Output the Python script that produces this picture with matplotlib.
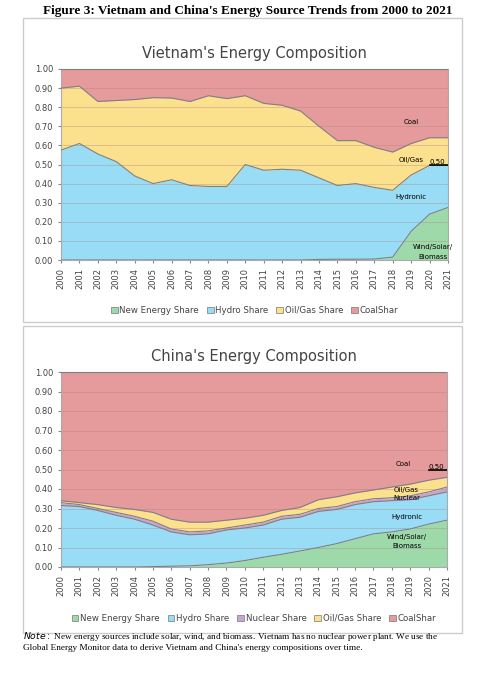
import matplotlib.pyplot as plt
import numpy as np
from matplotlib.patches import Rectangle

years = list(range(2000, 2022))

# Vietnam: cumulative upper boundaries of each layer
vn_new = [0, 0, 0, 0, 0, 0, 0, 0, 0, 0, 0, 0, 0, 0, 0.003, 0.004, 0.004, 0.005, 0.015, 0.15, 0.24, 0.275]
vn_hydro = [0.575, 0.61, 0.555, 0.515, 0.44, 0.40, 0.42, 0.39, 0.385, 0.385, 0.50, 0.47, 0.475, 0.47,
            0.43, 0.39, 0.40, 0.38, 0.365, 0.445, 0.495, 0.495]
vn_oil = [0.90, 0.91, 0.83, 0.835, 0.84, 0.85, 0.848, 0.83, 0.86, 0.845, 0.86, 0.82, 0.81, 0.78,
          0.70, 0.625, 0.625, 0.59, 0.565, 0.61, 0.64, 0.64]

# China: cumulative upper boundaries
cn_new = [0, 0, 0, 0, 0, 0.002, 0.004, 0.006, 0.012, 0.02, 0.033, 0.05, 0.065, 0.082, 0.10, 0.12,
          0.145, 0.17, 0.18, 0.195, 0.22, 0.24]
cn_hydro = [0.315, 0.31, 0.29, 0.265, 0.245, 0.215, 0.18, 0.165, 0.17, 0.19, 0.20, 0.215, 0.245,
            0.255, 0.285, 0.295, 0.32, 0.335, 0.34, 0.345, 0.365, 0.385]
cn_nuclear = [0.33, 0.32, 0.30, 0.28, 0.26, 0.235, 0.195, 0.18, 0.185, 0.20, 0.215, 0.23, 0.26,
              0.27, 0.30, 0.31, 0.335, 0.35, 0.355, 0.365, 0.385, 0.41]
cn_oil = [0.34, 0.33, 0.32, 0.305, 0.295, 0.28, 0.245, 0.23, 0.23, 0.24, 0.25, 0.265, 0.29, 0.305,
          0.345, 0.36, 0.38, 0.395, 0.41, 0.425, 0.445, 0.46]

C_COAL = '#E59A9B'
C_OIL = '#FBE08E'
C_HYDRO = '#98DCF5'
C_NUC = '#C7A6D6'
C_NEW = '#9ED9AA'

fig = plt.figure(figsize=(4.95, 6.8), dpi=100)
W, H = 495, 680

# chart boxes (behind the axes)
for (y0, y1) in [(18, 322), (326, 633)]:
    fig.patches.append(Rectangle((23 / W, 1 - y1 / H), 439 / W, (y1 - y0) / H, transform=fig.transFigure,
                                 facecolor='none', edgecolor='#cccccc', lw=1, zorder=-10))

fig.text(0.5, 1 - 11 / H, "Figure 3: Vietnam and China's Energy Source Trends from 2000 to 2021",
         ha='center', va='center', fontsize=9.5, fontweight='bold', family='Liberation Serif')


def draw(ax, layers, colors, labels, title):
    x = np.arange(len(years))
    lower = np.zeros(len(years))
    for top, c in zip(layers + [np.ones(len(years))], colors):
        top = np.array(top, dtype=float)
        ax.fill_between(x, lower, top, color=c, lw=0, zorder=1)
        ax.plot(x, top, color='#808080', lw=0.8, zorder=3)
        lower = top
    ax.set_xlim(0, len(years) - 1)
    ax.set_ylim(0, 1)
    ax.set_yticks(np.arange(0, 1.01, 0.1))
    ax.set_yticklabels([f'{v:.2f}' for v in np.arange(0, 1.01, 0.1)], fontsize=6, color='#444444')
    ax.set_xticks(x)
    ax.set_xticklabels(years, rotation=90, fontsize=6, color='#444444')
    for v in np.arange(0.1, 1.0, 0.1):
        ax.axhline(v, color='#b08080', lw=0.5, alpha=0.5, zorder=2)
    for s in ax.spines.values():
        s.set_color('#aaaaaa')
    ax.tick_params(length=2, color='#888888')
    ax.set_title(title, fontsize=10.5, color='#444444', pad=8)
    handles = [Rectangle((0, 0), 1, 1, facecolor=c, edgecolor='#777777', lw=0.5) for c in colors]
    ax.legend(handles, labels, loc='upper center', bbox_to_anchor=(0.5, -0.2), ncol=len(labels),
              frameon=False, fontsize=6.2, handlelength=0.8, handletextpad=0.2, columnspacing=0.9,
              labelcolor='#444444')


ax1 = fig.add_axes([61 / W, 1 - 260 / H, 387 / W, 191 / H])
draw(ax1, [vn_new, vn_hydro, vn_oil], [C_NEW, C_HYDRO, C_OIL, C_COAL],
     ['New Energy Share', 'Hydro Share', 'Oil/Gas Share', 'CoalShar'], "Vietnam's Energy Composition")
ax1.text(19.0, 0.71, 'Coal', fontsize=5, ha='center')
ax1.text(19.0, 0.515, 'Oil/Gas', fontsize=5, ha='center')
ax1.text(20.4, 0.505, '0.50', fontsize=5, ha='center')
ax1.plot([20, 21], [0.495, 0.495], color='black', lw=1.2, zorder=4)
ax1.text(19.0, 0.32, 'Hydronic', fontsize=5, ha='center')
ax1.text(20.2, 0.06, 'Wind/Solar/', fontsize=5, ha='center')
ax1.text(20.2, 0.005, 'Biomass', fontsize=5, ha='center')

ax2 = fig.add_axes([61 / W, 1 - 567 / H, 386 / W, 195 / H])
draw(ax2, [cn_new, cn_hydro, cn_nuclear, cn_oil], [C_NEW, C_HYDRO, C_NUC, C_OIL, C_COAL],
     ['New Energy Share', 'Hydro Share', 'Nuclear Share', 'Oil/Gas Share', 'CoalShar'],
     "China's Energy Composition")
ax2.text(18.6, 0.52, 'Coal', fontsize=5, ha='center')
ax2.text(20.4, 0.505, '0.50', fontsize=5, ha='center')
ax2.plot([20, 21], [0.498, 0.498], color='black', lw=1.2, zorder=4)
ax2.text(18.8, 0.385, 'Oil/Gas', fontsize=5, ha='center')
ax2.text(18.8, 0.345, 'Nuclear', fontsize=5, ha='center')
ax2.text(18.8, 0.245, 'Hydronic', fontsize=5, ha='center')
ax2.text(18.8, 0.10, 'Wind/Solar/\nBiomass', fontsize=5, ha='center', linespacing=1.5)

fig.text(23 / W, 1 - 641 / H,
         r"$\it{Note:}$ New energy sources include solar, wind, and biomass. Vietnam has no nuclear power plant. We use the"
         "\nGlobal Energy Monitor data to derive Vietnam and China's energy compositions over time.",
         ha='left', va='center', fontsize=6.7, family='Liberation Serif', linespacing=1.1)

fig.savefig('out.png', dpi=100)
